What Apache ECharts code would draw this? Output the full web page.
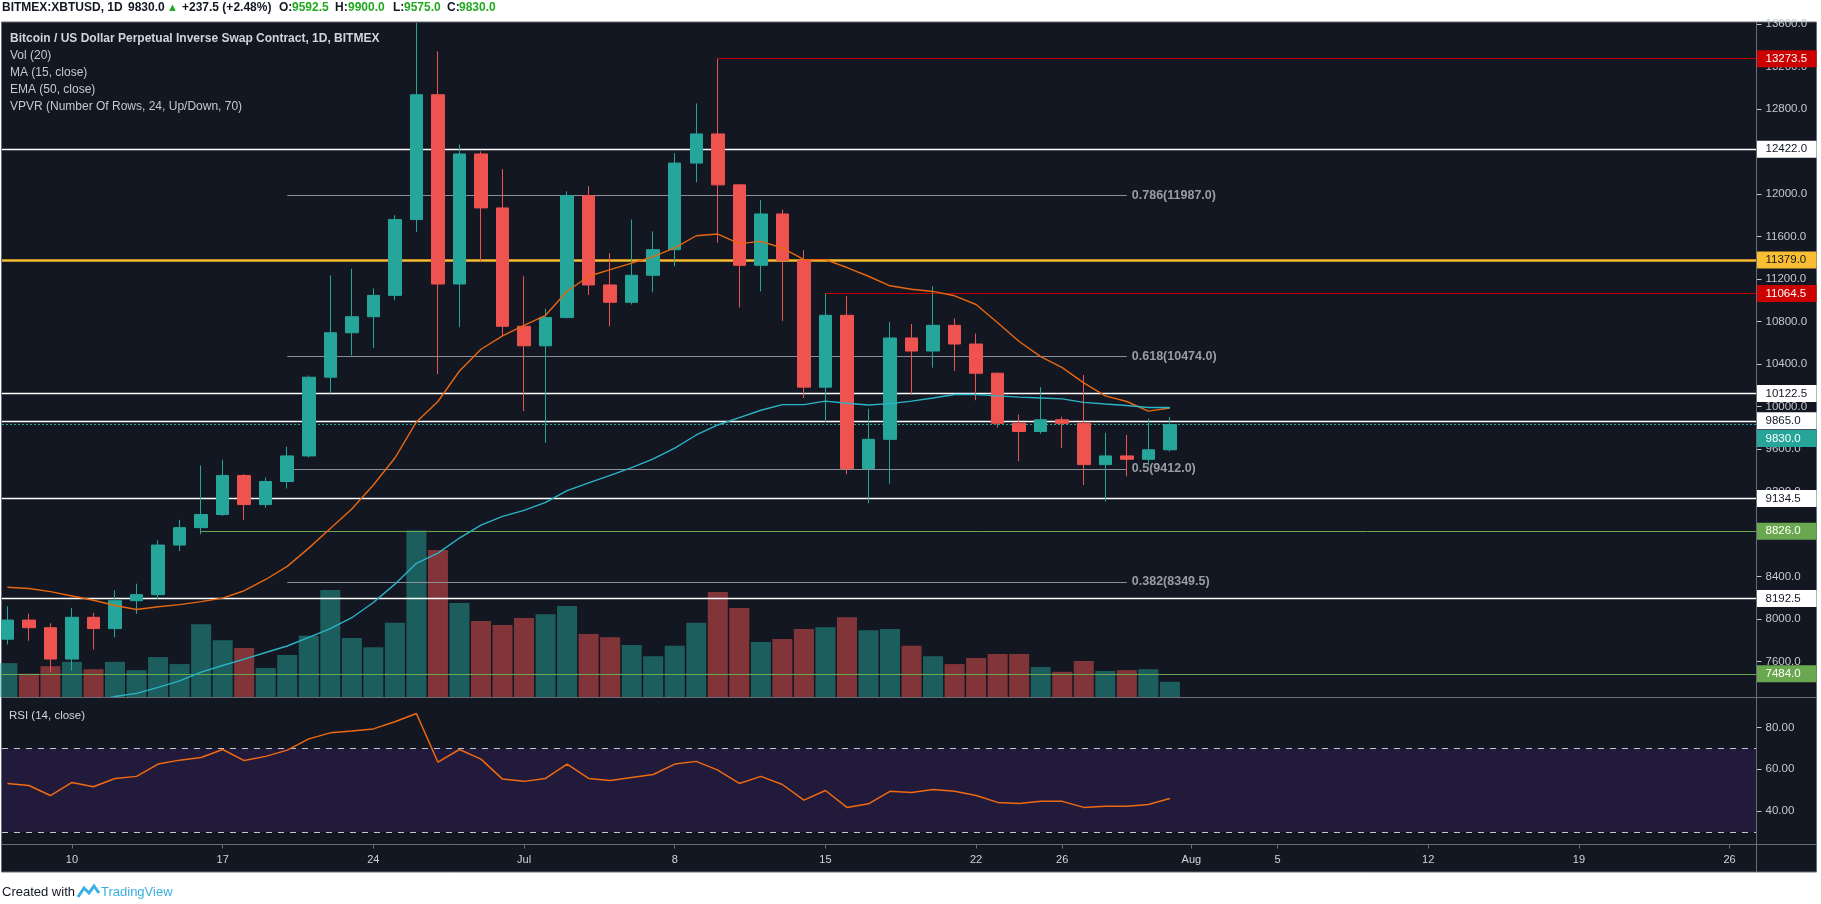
<!DOCTYPE html>
<html>
<head>
<meta charset="utf-8">
<script src="https://cdn.jsdelivr.net/npm/echarts@6/dist/echarts.min.js"></script>
<style>
html,body{margin:0;padding:0;background:#ffffff;}
#c{width:1821px;height:904px;}
</style>
</head>
<body>
<div id="c"></div>
<script>
// ---------------- DATA ----------------
const dates = [
 '2019-06-07','2019-06-08','2019-06-09','2019-06-10','2019-06-11','2019-06-12','2019-06-13','2019-06-14',
 '2019-06-15','2019-06-16','2019-06-17','2019-06-18','2019-06-19','2019-06-20','2019-06-21','2019-06-22',
 '2019-06-23','2019-06-24','2019-06-25','2019-06-26','2019-06-27','2019-06-28','2019-06-29','2019-06-30',
 '2019-07-01','2019-07-02','2019-07-03','2019-07-04','2019-07-05','2019-07-06','2019-07-07','2019-07-08',
 '2019-07-09','2019-07-10','2019-07-11','2019-07-12','2019-07-13','2019-07-14','2019-07-15','2019-07-16',
 '2019-07-17','2019-07-18','2019-07-19','2019-07-20','2019-07-21','2019-07-22','2019-07-23','2019-07-24',
 '2019-07-25','2019-07-26','2019-07-27','2019-07-28','2019-07-29','2019-07-30','2019-07-31'
];
const opens = [7810,7990,7918,7623,8016,7910,8172,8229,8696,8860,8983,9351,9077,9294,9535,10276,10694,10845,11046,11759,12934,11153,12377,11869,
 10755,10571,10837,11984,11144,10981,11235,11476,12291,12565,12086,11329,11812,11376,10182,10858,9417,9691,10645,10522,10764,10588,10313,9842,9765,9875,9842,9453,9535,9503,9592.5];
const highs = [8120,8050,7960,8105,8057,8270,8332,8741,8933,9445,9498,9363,9331,9621,10292,11234,11296,11112,11800,13610,13343,12467,12401,12234,
 11226,10919,12025,12074,11443,11759,11648,12385,12852,13273.5,12094,11943,11853,11472,11064.5,11038,9978,10796,10776,11132,10829,10686,10320,9924,10182,9904,10297,9752,9732,9887,9900];
const lows = [7760,7795,7500,7513,7713,7828,8049,8188,8639,8798,8970,8933,9048,9228,9520,10121,10481,10551,11001,11644,10305,10747,11361,10665,
 9957,9658,10830,11050,10755,10960,11075,11320,12111,11542,10932,11083,10805,10080,9855,9363,9089,9273,10109,10366,10334,10059,9801,9486,9744,9609,9261,9105,9343,9445,9575];
const closes = [7990,7918,7623,8016,7910,8172,8229,8696,8860,8983,9351,9077,9294,9535,10276,10694,10845,11046,11759,12934,11153,12377,11869,10755,
 10571,10837,11984,11144,10981,11235,11476,12291,12565,12086,11329,11812,11376,10182,10858,9417,9691,10645,10522,10764,10588,10313,9842,9765,9875,9842,9453,9535,9503,9592.5,9830];
const volumes = [2030,1400,1850,2110,1665,2110,1610,2395,1975,4370,3410,2940,1745,2525,3670,6425,3540,2990,4450,9990,8820,5645,4555,4320,
 4735,4970,5465,3775,3590,3120,2445,3070,4450,6295,5335,3305,3485,4085,4190,4790,4005,4085,3070,2445,1975,2340,2575,2575,1795,1510,2160,1560,1615,1665,910];
const ma15 = [8299,8287,8258,8217,8176,8127,8090,8115,8135,8164,8196,8266,8372,8495,8667,8852,9036,9261,9515,9855,10047,10334,10539,10665,
 10764,10858,11085,11226,11288,11349,11411,11492,11607,11623,11533,11554,11492,11382,11382,11308,11226,11136,11103,11083,11042,10960,10788,10612,10469,10366,10223,10100,10047,9957,9986];
const ema50 = [7120,7150,7175,7200,7230,7270,7300,7357,7418,7500,7562,7623,7685,7746,7828,7910,8012,8155,8328,8524,8620,8762,8884,8966,
 9023,9097,9208,9281,9351,9425,9507,9609,9732,9826,9896,9965,10018,10018,10051,10031,10014,10027,10051,10080,10113,10113,10100,10088,10080,10072,10039,10023,10010,9990,9990];
const rsi14 = [53.2,52.2,47.4,53.7,51.6,55.6,56.6,62.5,64.4,65.7,69.5,64.2,66.2,69.2,74.6,77.5,78.4,79.4,82.8,86.8,63.4,69.5,64.9,55.3,
 54.2,55.6,62.5,55.6,54.6,56.1,57.5,62.5,63.8,59.6,53.2,56.6,52.7,45.2,49.8,41.7,43.4,49.4,48.9,50.3,49.5,47.4,44.1,43.6,44.6,44.6,41.7,42.2,42.2,43.1,46.0];

// horizontal price levels
const levelPrices = [13273.5, 12422, 11379, 11064.5, 10122.5, 9865, 9134.5, 8826, 8192.5, 7484];
const levelStart  = ['2019-07-10', '', '', '2019-07-15', '', '', '', '2019-06-16', '', ''];
const levelType   = ['red', 'white', 'yellow', 'red', 'white', 'white', 'white', 'green', 'white', 'green'];

// fibonacci retracement
const fibRatios = ['0.786', '0.618', '0.5', '0.382'];
const fibPrices = [11987, 10474, 9412, 8349.5];
const fibStart = '2019-06-20';
const fibEnd = '2019-07-29';

// axis ticks
const priceTicks = [7600,8000,8400,8800,9200,9600,10000,10400,10800,11200,11600,12000,12400,12800,13200,13600];
const rsiTicks = [40, 60, 80];
const timeTickDates  = ['2019-06-10','2019-06-17','2019-06-24','2019-07-01','2019-07-08','2019-07-15','2019-07-22','2019-07-26','2019-08-01','2019-08-05','2019-08-12','2019-08-19','2019-08-26'];
const timeTickLabels = ['10','17','24','Jul','8','15','22','26','Aug','5','12','19','26'];

// ---------------- LAYOUT / STYLE ----------------
const FONT = "'Liberation Sans', Arial, sans-serif";
const BG = '#131722';
const UP = '#26a69a', DOWN = '#ef5350';
const VOL_UP = 'rgba(38,166,154,0.5)', VOL_DOWN = 'rgba(239,83,80,0.5)';
const SEP = '#6a6d78';
const AXIS_TEXT = '#c5c8d0';
const REF_DAY = Date.parse('2019-06-10T00:00:00Z');
const dayIndex = s => (Date.parse(s + 'T00:00:00Z') - REF_DAY) / 86400000;
const X_MIN = dayIndex('2019-06-07') - 0.25;
const X_MAX = dayIndex('2019-08-27') + 0.25;
const PRICE_MIN = 7265.9, PRICE_MAX = 13618.8;
const VOL_MAX = 40500;
const RSI_MIN = 23.88, RSI_MAX = 94.24;
const LEVEL_STYLE = {
  red:    {line: '#c40000', width: 1,   bg: '#cc0000', text: '#ffffff'},
  white:  {line: '#ffffff', width: 1.3, bg: '#ffffff', text: '#131722'},
  yellow: {line: '#f7b92e', width: 2.5, bg: '#f9be32', text: '#131722'},
  green:  {line: '#6aa84f', width: 1,   bg: '#6aa84f', text: '#ffffff'}
};

const xs = dates.map(dayIndex);
const tickDays = timeTickDates.map(dayIndex);

// ---------------- SERIES BUILD ----------------
const levelLines = levelPrices.map((p, i) => {
  const st = LEVEL_STYLE[levelType[i]];
  const x0 = levelStart[i] ? dayIndex(levelStart[i]) : X_MIN;
  return [
    {coord: [x0, p], lineStyle: {color: st.line, width: st.width, type: 'solid'},
     label: {show: true, position: 'end', distance: 0, formatter: p.toFixed(1), color: st.text,
       backgroundColor: st.bg, padding: [3, 4, 2, 9], width: 47, fontSize: 11.5, fontFamily: FONT}},
    {coord: [X_MAX, p]}
  ];
});
const fibLines = fibPrices.map((p, i) => [
  {coord: [dayIndex(fibStart), p], lineStyle: {color: '#8c8f98', width: 1, type: 'solid'},
   label: {show: true, position: 'end', distance: 5, formatter: fibRatios[i] + '(' + p.toFixed(1) + ')',
     color: '#9a9ca5', fontWeight: 'bold', fontSize: 12.5, fontFamily: FONT}},
  {coord: [dayIndex(fibEnd), p]}
]);
const last = closes.length - 1;
const lastClose = closes[last];
const curLine = [
  {coord: [X_MIN, lastClose], lineStyle: {color: UP, width: 1, type: [2, 2]},
   label: {show: true, position: 'end', distance: 0, offset: [0, 14], formatter: lastClose.toFixed(1), color: '#ffffff',
     backgroundColor: UP, padding: [3, 4, 2, 9], width: 47, fontSize: 11.5, fontFamily: FONT}},
  {coord: [X_MAX, lastClose]}
];

const volData = volumes.map((v, i) => ({value: [xs[i], v], itemStyle: {color: closes[i] >= opens[i] ? VOL_UP : VOL_DOWN}}));
const candleData = xs.map((x, i) => [x, opens[i], closes[i], lows[i], highs[i]]);
const maData = xs.map((x, i) => [x, ma15[i]]);
const emaData = xs.map((x, i) => [x, ema50[i]]);
const rsiData = xs.map((x, i) => [x, rsi14[i]]);

// ---------------- HEADER TEXT ----------------
const chg = closes[last] - closes[last - 1];
const pct = chg / closes[last - 1] * 100;
const HDR_Y = 8;
function txt(x, y, text, fill, size, weight) {
  return {type: 'text', x: x, y: y, z: 100,
    style: {text: text, fill: fill, fontSize: size, fontFamily: FONT, fontWeight: weight || 'normal', verticalAlign: 'middle', align: 'left'}};
}
const HG = '#22a922';
const HS = 12;
const graphics = [
  {type: 'rect', z: -10, shape: {x: 1.5, y: 22, width: 1815, height: 850}, style: {fill: BG, stroke: SEP, lineWidth: 1}},
  {type: 'line', z: 50, shape: {x1: 1756.5, y1: 22, x2: 1756.5, y2: 872}, style: {stroke: SEP, lineWidth: 1}},
  {type: 'line', z: 50, shape: {x1: 1.5, y1: 697.5, x2: 1816.5, y2: 697.5}, style: {stroke: SEP, lineWidth: 1}},
  {type: 'line', z: 50, shape: {x1: 1.5, y1: 844.5, x2: 1816.5, y2: 844.5}, style: {stroke: SEP, lineWidth: 1}},
  txt(2, HDR_Y, 'BITMEX:XBTUSD, 1D', '#131722', HS, 'bold'),
  txt(128, HDR_Y, lastClose.toFixed(1), '#131722', HS, 'bold'),
  txt(167, HDR_Y, '▲', HG, 11, 'normal'),
  txt(182, HDR_Y, '+' + chg.toFixed(1) + ' (+' + pct.toFixed(2) + '%)', '#131722', HS, 'bold'),
  txt(279, HDR_Y, 'O:', '#131722', HS, 'bold'),
  txt(292, HDR_Y, opens[last].toFixed(1), HG, HS, 'bold'),
  txt(335, HDR_Y, 'H:', '#131722', HS, 'bold'),
  txt(348, HDR_Y, highs[last].toFixed(1), HG, HS, 'bold'),
  txt(393, HDR_Y, 'L:', '#131722', HS, 'bold'),
  txt(404, HDR_Y, lows[last].toFixed(1), HG, HS, 'bold'),
  txt(447, HDR_Y, 'C:', '#131722', HS, 'bold'),
  txt(459, HDR_Y, closes[last].toFixed(1), HG, HS, 'bold'),
  txt(10, 39, 'Bitcoin / US Dollar Perpetual Inverse Swap Contract, 1D, BITMEX', '#d1d4dc', 12, 'bold'),
  txt(10, 56, 'Vol (20)', '#c5c8d0', 12),
  txt(10, 73, 'MA (15, close)', '#c5c8d0', 12),
  txt(10, 90, 'EMA (50, close)', '#c5c8d0', 12),
  txt(10, 107, 'VPVR (Number Of Rows, 24, Up/Down, 70)', '#c5c8d0', 12),
  txt(9, 716, 'RSI (14, close)', '#d1d4dc', 11.5),
  txt(2, 892, 'Created with', '#131722', 13),
  {type: 'polyline', z: 100, shape: {points: [[78, 897], [84, 888], [89, 893], [94, 886], [99, 893]]}, style: {stroke: '#3ab0e2', lineWidth: 3, fill: null}},
  txt(101, 892, 'TradingView', '#3ab0e2', 13)
];

// ---------------- OPTION ----------------
const option = {
  animation: false,
  backgroundColor: '#ffffff',
  grid: [
    {left: 2, top: 22, width: 1754.5, height: 675},
    {left: 2, top: 698, width: 1754.5, height: 146.5}
  ],
  xAxis: [
    {type: 'value', gridIndex: 0, min: X_MIN, max: X_MAX, show: false, splitLine: {show: false},
     axisLine: {show: false, onZero: false}, axisTick: {show: false}, axisLabel: {show: false}},
    {type: 'value', gridIndex: 1, min: X_MIN, max: X_MAX, splitLine: {show: false},
     axisLine: {show: false, onZero: false},
     axisTick: {show: true, customValues: tickDays, length: 4, lineStyle: {color: SEP}},
     axisLabel: {show: true, customValues: tickDays, margin: 10, color: '#d1d4dc', fontSize: 11, fontFamily: FONT,
       formatter: v => { const k = tickDays.indexOf(v); return k >= 0 ? timeTickLabels[k] : ''; }}}
  ],
  yAxis: [
    {type: 'value', gridIndex: 0, position: 'right', min: PRICE_MIN, max: PRICE_MAX, splitLine: {show: false},
     axisLine: {show: false, onZero: false},
     axisTick: {show: true, customValues: priceTicks, length: 5, lineStyle: {color: AXIS_TEXT}},
     axisLabel: {show: true, customValues: priceTicks, margin: 9, color: AXIS_TEXT, fontSize: 11.5, fontFamily: FONT,
       formatter: v => v.toFixed(1)}},
    {type: 'value', gridIndex: 0, position: 'left', min: 0, max: VOL_MAX, show: false, splitLine: {show: false},
     axisLine: {show: false, onZero: false}, axisTick: {show: false}, axisLabel: {show: false}},
    {type: 'value', gridIndex: 1, position: 'right', min: RSI_MIN, max: RSI_MAX, splitLine: {show: false},
     axisLine: {show: false, onZero: false},
     axisTick: {show: true, customValues: rsiTicks, length: 5, lineStyle: {color: AXIS_TEXT}},
     axisLabel: {show: true, customValues: rsiTicks, margin: 9, color: AXIS_TEXT, fontSize: 11.5, fontFamily: FONT,
       formatter: v => v.toFixed(2)}}
  ],
  series: [
    {name: 'Volume', type: 'bar', xAxisIndex: 0, yAxisIndex: 1, data: volData, barWidth: 20, z: 1, silent: true},
    {name: 'Levels', type: 'line', xAxisIndex: 0, yAxisIndex: 0, data: [], z: 2, clip: false, silent: true,
     markLine: {symbol: 'none', silent: true, animation: false, data: fibLines.concat(levelLines).concat([curLine])}},
    {name: 'XBTUSD', type: 'candlestick', xAxisIndex: 0, yAxisIndex: 0, data: candleData, clip: true,
     encode: {x: 0, y: [1, 2, 3, 4]}, barWidth: 13, z: 5,
     itemStyle: {color: UP, color0: DOWN, borderColor: UP, borderColor0: DOWN, borderWidth: 1}},
    {name: 'MA15', type: 'line', xAxisIndex: 0, yAxisIndex: 0, data: maData, symbol: 'none', z: 6, clip: true,
     lineStyle: {color: '#e8670f', width: 1.4}},
    {name: 'EMA50', type: 'line', xAxisIndex: 0, yAxisIndex: 0, data: emaData, symbol: 'none', z: 6, clip: true,
     lineStyle: {color: '#2ab4c6', width: 1.4}},
    {name: 'RSI', type: 'line', xAxisIndex: 1, yAxisIndex: 2, data: rsiData, symbol: 'none', z: 6,
     lineStyle: {color: '#ef6a10', width: 1.5},
     markArea: {silent: true, itemStyle: {color: '#221a3b'}, data: [[{yAxis: 30}, {yAxis: 70}]]},
     markLine: {symbol: 'none', silent: true, label: {show: false},
       lineStyle: {color: '#c3c5cc', width: 1, type: [6, 6]}, data: [{yAxis: 70}, {yAxis: 30}]}}
  ],
  graphic: graphics
};

const chart = echarts.init(document.getElementById('c'), null, {renderer: 'canvas', width: 1821, height: 904});
chart.setOption(option);
</script>
</body>
</html>
